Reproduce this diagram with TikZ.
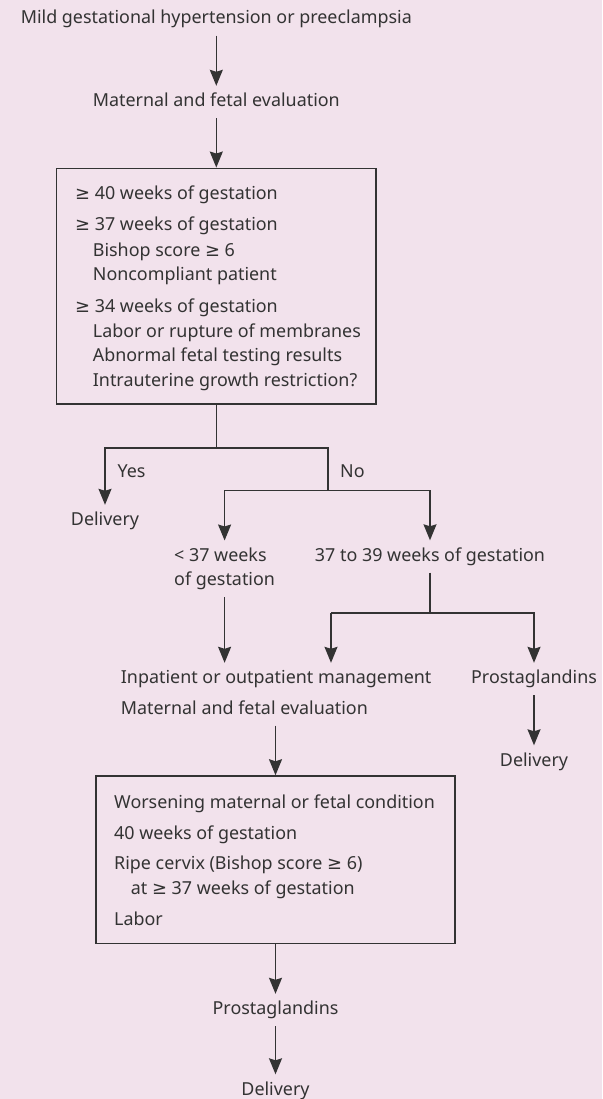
\documentclass[tikz,border=0pt]{standalone}
\usepackage{fontspec}
\setmainfont{Noto Sans}
\newfontfamily\symf{DejaVu Sans}
\newcommand{\mygeq}{{\symf ≥}}
\usetikzlibrary{arrows.meta}
\definecolor{bgpink}{HTML}{F2E2EC}
\definecolor{ink}{HTML}{333333}
\tikzset{
  txt/.style={font=\fontsize{17.9}{24.5}\selectfont, text=ink, inner xsep=0pt, inner ysep=7pt, text height=13.5pt, text depth=4.5pt},
  boxnode/.style={draw=ink, line width=1.5pt, inner sep=0pt},
  conn/.style={draw=ink, line width=1.5pt},
  arr/.style={conn, -{Stealth[length=16pt,width=13pt,inset=2pt]}}
}
\begin{document}
\begin{tikzpicture}[x=1pt,y=-1pt]
\fill[bgpink] (0,0) rectangle (602,1099);
\useasboundingbox (0,0) rectangle (602,1099);

% top
\node[txt, anchor=base] (title) at (216.3,24) {Mild gestational hypertension or preeclampsia};
\node[txt, anchor=base] (mat1) at (216.3,106.5) {Maternal and fetal evaluation};

% box 1
\node[boxnode, minimum width=319.3pt, minimum height=235.7pt] (box1) at (216.3,286.15) {};
\node[txt, anchor=base west] (b1l1) at (75,199.5) {\mygeq{} 40 weeks of gestation};
\node[txt, anchor=base west] (b1l2) at (75,231) {\mygeq{} 37 weeks of gestation};
\node[txt, anchor=base west] (b1l3) at (92.7,256) {Bishop score \mygeq{} 6};
\node[txt, anchor=base west] (b1l4) at (92.7,280.5) {Noncompliant patient};
\node[txt, anchor=base west] (b1l5) at (75,312) {\mygeq{} 34 weeks of gestation};
\node[txt, anchor=base west] (b1l6) at (92.7,337) {Labor or rupture of membranes};
\node[txt, anchor=base west] (b1l7) at (92.7,361.5) {Abnormal fetal testing results};
\node[txt, anchor=base west] (b1l8) at (92.7,386) {Intrauterine growth restriction?};

% branch
\node[txt, anchor=base west] (yes) at (117.3,477.5) {Yes};
\node[txt, anchor=base west] (no) at (340,477.5) {No};
\node[txt, anchor=base] (del1) at (105,525.5) {Delivery};
\node[txt, anchor=north west, align=left, text height=38pt] (lt37) at (174,540.5) {< 37 weeks\\of gestation};
\node[txt, anchor=base] (w3739) at (430,561) {37 to 39 weeks of gestation};
\node[txt, anchor=base west] (inpat) at (120.7,683.5) {Inpatient or outpatient management};
\node[txt, anchor=base west] (mat2) at (120.7,714) {Maternal and fetal evaluation};
\node[txt, anchor=base] (prost1) at (534,683.5) {Prostaglandins};
\node[txt, anchor=base] (del2) at (534,766) {Delivery};

% box 2
\node[boxnode, minimum width=359pt, minimum height=167.3pt] (box2) at (275.5,859.65) {};
\node[txt, anchor=base west] (b2l1) at (114,808.5) {Worsening maternal or fetal condition};
\node[txt, anchor=base west] (b2l2) at (114,839.5) {40 weeks of gestation};
\node[txt, anchor=base west] (b2l3) at (114,869.5) {Ripe cervix (Bishop score \mygeq{} 6)};
\node[txt, anchor=base west] (b2l4) at (130.7,894.5) {at \mygeq{} 37 weeks of gestation};
\node[txt, anchor=base west] (b2l5) at (114,925.5) {Labor};

\node[txt, anchor=base] (prost2) at (275.5,1014.5) {Prostaglandins};
\node[txt, anchor=base] (del3) at (275.5,1095) {Delivery};

% junctions
\coordinate (j1) at (216.3,448);
\coordinate (j2) at (328,490.5);
\coordinate (j3) at (430,613);
\coordinate (k) at (331,613);

% connectors
\draw[arr] (title.south) -- (mat1.north);
\draw[arr] (mat1.south) -- (box1.north);
\draw[conn] (box1.south) -- (j1);
\draw[arr] (j1) -| (del1.north);
\draw[conn] (j1) -| (j2);
\draw[arr] (j2) -| (lt37.north);
\draw[arr] (j2) -| (w3739.north);
\draw[conn] (w3739.south) -- (j3);
\draw[arr] (k) -| (prost1.north);
\draw[arr] (k) -- (k |- inpat.north);
\draw[arr] (lt37.south) -- (lt37.south |- inpat.north);
\draw[arr] (prost1.south) -- (del2.north);
\draw[arr] (mat2.south -| box2.north) -- (box2.north);
\draw[arr] (box2.south) -- (prost2.north);
\draw[arr] (prost2.south) -- (del3.north);
\end{tikzpicture}
\end{document}
